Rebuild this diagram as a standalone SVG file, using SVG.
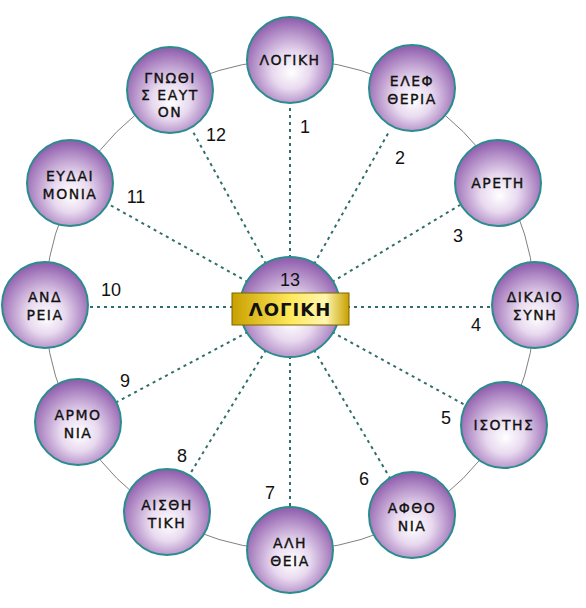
<svg xmlns="http://www.w3.org/2000/svg" width="586" height="608" viewBox="0 0 586 608">
<defs>
<radialGradient id="ball" cx="50%" cy="58%" r="55%" fx="52%" fy="65%">
<stop offset="0" stop-color="#ffffff"/>
<stop offset="0.4" stop-color="#e8d9ef"/>
<stop offset="1" stop-color="#9463b0"/>
</radialGradient>
<linearGradient id="gold" x1="0" y1="0" x2="1" y2="0">
<stop offset="0" stop-color="#c9a000"/>
<stop offset="0.5" stop-color="#ffe95a"/>
<stop offset="0.8" stop-color="#fff6b0"/>
<stop offset="1" stop-color="#c9a000"/>
</linearGradient>
</defs>
<style>
.ring{fill:none;stroke:#808080;stroke-width:1}
.node{fill:url(#ball);stroke:#2a8c8c;stroke-width:2}
.lbl{font-family:"DejaVu Sans",sans-serif;font-size:14px;letter-spacing:1.5px;fill:#111;stroke:#111;stroke-width:0.35;text-anchor:middle}
.num{font-family:"Liberation Sans",Arial,sans-serif;font-size:18px;fill:#111;text-anchor:middle}
.conn line{stroke:#2f6f6a;stroke-width:2;stroke-dasharray:3,4}
</style>
<rect width="586" height="608" fill="#fff"/>
<circle class="ring" cx="290" cy="305" r="245"/>
<g id="connectors" class="conn">
<line x1="290" y1="258" x2="290" y2="104"/>
<line x1="314" y1="264" x2="390" y2="130"/>
<line x1="332" y1="282" x2="460" y2="205"/>
<line x1="340" y1="307" x2="490" y2="307"/>
<line x1="332" y1="332" x2="465" y2="405"/>
<line x1="314" y1="350" x2="390" y2="478"/>
<line x1="290" y1="356" x2="290" y2="507"/>
<line x1="266" y1="350" x2="190" y2="474"/>
<line x1="248" y1="332" x2="115" y2="403"/>
<line x1="240" y1="307" x2="90" y2="307"/>
<line x1="248" y1="282" x2="110" y2="205"/>
<line x1="266" y1="264" x2="192" y2="130"/>
</g>
<g id="n0"><circle class="node" cx="290" cy="60" r="43"/><text class="lbl" x="290" y="65">ΛΟΓΙΚΗ</text></g>
<g id="n1"><circle class="node" cx="412" cy="88" r="43"/><text class="lbl" x="412" y="86">ΕΛΕΦ</text><text class="lbl" x="412" y="104">ΘΕΡΙΑ</text></g>
<g id="n2"><circle class="node" cx="498" cy="183" r="43"/><text class="lbl" x="498" y="188">ΑΡΕΤΗ</text></g>
<g id="n3"><circle class="node" cx="535" cy="305" r="43"/><text class="lbl" x="535" y="302">ΔΙΚΑΙΟ</text><text class="lbl" x="535" y="320">ΣΥΝΗ</text></g>
<g id="n4"><circle class="node" cx="504" cy="425" r="43"/><text class="lbl" x="504" y="430">ΙΣΟΤΗΣ</text></g>
<g id="n5"><circle class="node" cx="412" cy="515" r="43"/><text class="lbl" x="412" y="513">ΑΦΘΟ</text><text class="lbl" x="412" y="531">ΝΙΑ</text></g>
<g id="n6"><circle class="node" cx="290" cy="550" r="43"/><text class="lbl" x="290" y="548">ΑΛΗ</text><text class="lbl" x="290" y="566">ΘΕΙΑ</text></g>
<g id="n7"><circle class="node" cx="167" cy="512" r="43"/><text class="lbl" x="167" y="510">ΑΙΣΘΗ</text><text class="lbl" x="167" y="528">ΤΙΚΗ</text></g>
<g id="n8"><circle class="node" cx="78" cy="422" r="43"/><text class="lbl" x="78" y="420">ΑΡΜΟ</text><text class="lbl" x="78" y="438">ΝΙΑ</text></g>
<g id="n9"><circle class="node" cx="45" cy="305" r="43"/><text class="lbl" x="45" y="302">ΑΝΔ</text><text class="lbl" x="45" y="320">ΡΕΙΑ</text></g>
<g id="n10"><circle class="node" cx="70" cy="183" r="43"/><text class="lbl" x="70" y="181">ΕΥΔΑΙ</text><text class="lbl" x="70" y="199">ΜΟΝΙΑ</text></g>
<g id="n11"><circle class="node" cx="170" cy="90" r="43"/><text class="lbl" x="170" y="83">ΓΝΩΘΙ</text><text class="lbl" x="170" y="100">Σ ΕΑΥΤ</text><text class="lbl" x="170" y="117">ΟΝ</text></g>
<g id="center">
<circle class="node" cx="290" cy="307" r="50"/>
<text class="num" x="290" y="286" font-size="20">13</text>
<rect x="232" y="293" width="117" height="32" fill="url(#gold)" stroke="#7a6400" stroke-width="1"/>
<text x="290" y="316" font-family="DejaVu Sans,sans-serif" font-size="18" font-weight="bold" text-anchor="middle" letter-spacing="1" fill="#111">ΛΟΓΙΚΗ</text>
</g>
<g id="numbers">
<text class="num" x="305" y="133">1</text>
<text class="num" x="400" y="164">2</text>
<text class="num" x="458" y="242">3</text>
<text class="num" x="476" y="331">4</text>
<text class="num" x="446" y="424">5</text>
<text class="num" x="364" y="485">6</text>
<text class="num" x="270" y="499">7</text>
<text class="num" x="182" y="462">8</text>
<text class="num" x="125" y="387">9</text>
<text class="num" x="111" y="296">10</text>
<text class="num" x="136" y="203">11</text>
<text class="num" x="216" y="141">12</text>
</g>
</svg>
